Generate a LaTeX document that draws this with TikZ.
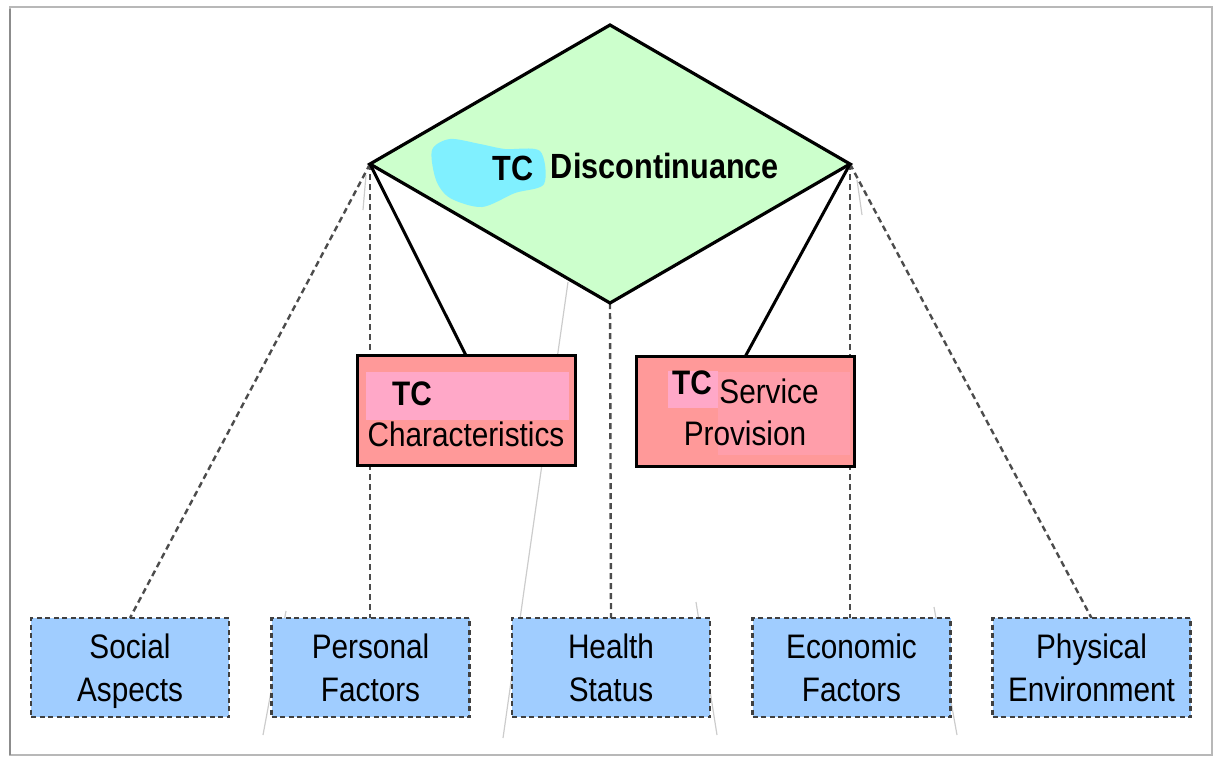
\documentclass[tikz,border=0pt]{standalone}
\usepackage{fontspec}
\setmainfont{Liberation Sans}[FakeStretch=0.875]
\usetikzlibrary{shapes.geometric,backgrounds}
\definecolor{dgreen}{RGB}{204,255,204}
\definecolor{salmon}{RGB}{255,153,153}
\definecolor{pinkb}{RGB}{255,168,200}
\definecolor{lblue}{RGB}{160,205,255}
\definecolor{cyanb}{RGB}{128,240,255}
\begin{document}
\begin{tikzpicture}[x=1pt,y=-1pt,
  txt/.style={font=\fontsize{34}{40}\selectfont, inner sep=0pt, anchor=center},
  btxt/.style={font=\fontsize{34}{40}\selectfont\bfseries, inner sep=0pt, anchor=center},
  redbox/.style={draw=black, line width=3pt, fill=salmon, minimum width=218pt, minimum height=110pt, inner sep=0pt, outer sep=0pt},
  bluebox/.style={draw=black!75, dash pattern=on 5pt off 3.5pt, line width=2.5pt, fill=lblue, minimum width=198pt, minimum height=99pt, inner sep=0pt, outer sep=0pt, align=center, text depth=0pt, font=\fontsize{34}{43}\selectfont},
  link/.style={draw=black!70, dash pattern=on 6pt off 4pt, line width=2.4pt},
  tie/.style={draw=black, line width=3pt},
  faint/.style={draw=black!20, line width=1.2pt}]
\useasboundingbox (0,0) rectangle (1213,756);
\draw[black!28, line width=1.5pt] (10,7) rectangle (1212,755);
\draw[black!45, line width=2pt] (10,9) -- (10,755);

% diamond
\node[diamond, draw=black, line width=3.2pt, fill=dgreen, minimum width=480pt, minimum height=278pt, inner sep=0pt, outer sep=0pt] (dia) at (610,164) {};
\fill[cyanb] plot[smooth cycle] coordinates {(432,150) (450,139) (480,144) (505,149) (540,151) (544,184) (515,193) (482,207) (450,198) (436,180)};
\node[btxt, font=\fontsize{35}{40}\selectfont\bfseries] (dtc) at (513,168) {TC};
\node[btxt, font=\fontsize{35}{40}\selectfont\bfseries] (dlab) at (665,166) {Discontinuance};

% red boxes
\node[redbox] (char) at (466,410.5) {};
\node[redbox] (serv) at (745.5,411) {};
\fill[pinkb] (366,372) rectangle (569,420);
\fill[pinkb] (668,371) rectangle (718,408);
\fill[pinkb!35!salmon] (718,372) rectangle (850,455);
\node[btxt] (ctc) at (412,394) {TC};
\node[txt] (clab) at (466,434) {Characteristics};
\node[btxt] (stc) at (692,383) {TC};
\node[txt] (slab) at (769,391) {Service};
\node[txt] (plab) at (745,433) {Provision};

% blue boxes
\node[bluebox] (social) at (130,667.5) {Social\\Aspects};
\node[bluebox] (personal) at (370.5,667.5) {Personal\\Factors};
\node[bluebox] (health) at (611,667.5) {Health\\Status};
\node[bluebox] (economic) at (851.5,667.5) {Economic\\Factors};
\node[bluebox] (physical) at (1091.5,667.5) {Physical\\Environment};

% faint leftover strokes
\coordinate (f1a) at (568,282); \coordinate (f1b) at (503,738);
\coordinate (f2a) at (286,611); \coordinate (f2b) at (263,735);
\coordinate (f3a) at (696,602); \coordinate (f3b) at (717,735);
\coordinate (f4a) at (934,607); \coordinate (f4b) at (957,735);
\coordinate (f5a) at (366,175); \coordinate (f5b) at (363,210);
\coordinate (f6a) at (857,180); \coordinate (f6b) at (862,215);

\begin{scope}[on background layer]
  \draw[faint] (f1a) -- (f1b);
  \draw[faint] (f2a) -- (f2b);
  \draw[faint] (f3a) -- (f3b);
  \draw[faint] (f4a) -- (f4b);
  \draw[faint] (f5a) -- (f5b);
  \draw[faint] (f6a) -- (f6b);
  \draw[link] (dia.west) -- (social.north);
  \draw[link] (dia.west) -- (dia.west |- personal.north);
  \draw[link] (dia.south) -- (health.north);
  \draw[link] (dia.east) -- (dia.east |- economic.north);
  \draw[link] (dia.east) -- (physical.north);
\end{scope}
\draw[tie] (dia.west) -- (char.north);
\draw[tie] (dia.east) -- (serv.north);
\end{tikzpicture}
\end{document}
